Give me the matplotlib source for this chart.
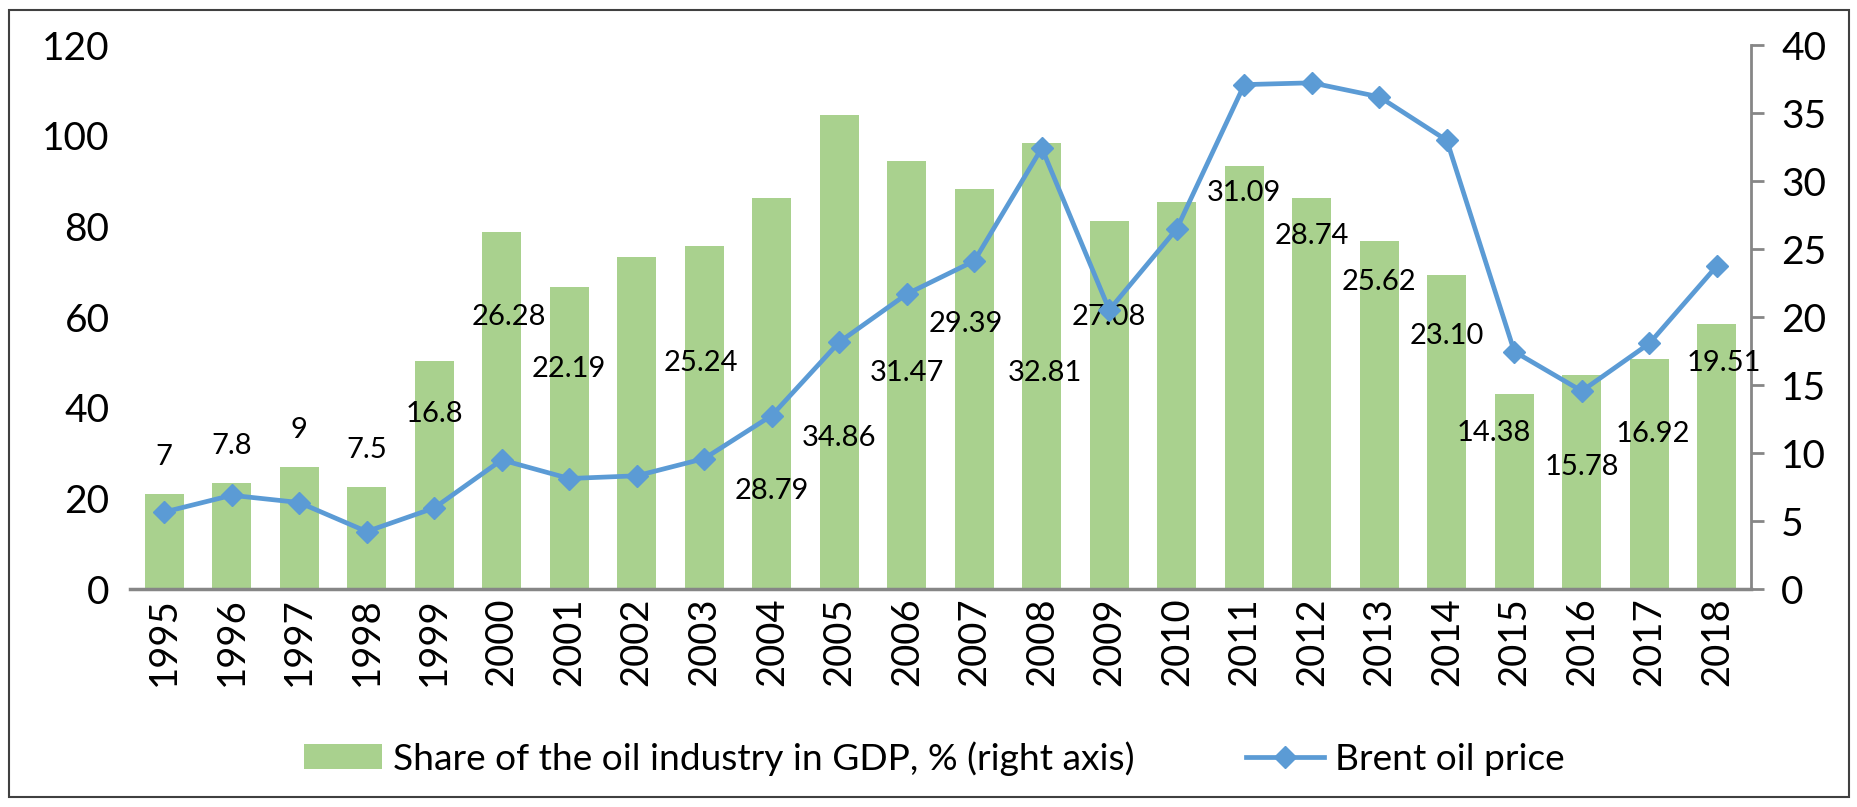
import matplotlib.pyplot as plt
from matplotlib.patches import Rectangle
import numpy as np

plt.rcParams['font.family'] = ['Lato', 'DejaVu Sans']

# Data
years = ['1995', '1996', '1997', '1998', '1999', '2000', '2001', '2002',
         '2003', '2004', '2005', '2006', '2007', '2008', '2009', '2010',
         '2011', '2012', '2013', '2014', '2015', '2016', '2017', '2018']
oil_share = [7, 7.8, 9, 7.5, 16.8, 26.28, 22.19, 24.46, 25.24, 28.79, 34.86,
             31.47, 29.39, 32.81, 27.08, 28.44, 31.09, 28.74, 25.62, 23.10,
             14.38, 15.78, 16.92, 19.51]
share_labels = ['7', '7.8', '9', '7.5', '16.8', '26.28', '22.19', '',
                '25.24', '28.79', '34.86', '31.47', '29.39', '32.81', '27.08',
                '', '31.09', '28.74', '25.62', '23.10', '14.38', '15.78',
                '16.92', '19.51']
brent = [17.0, 20.7, 19.1, 12.7, 17.9, 28.5, 24.4, 25.0, 28.8, 38.3, 54.5,
         65.1, 72.4, 97.3, 61.6, 79.5, 111.3, 111.7, 108.6, 99.0, 52.4,
         43.7, 54.2, 71.3]

# label placement (right-axis units, offset from bar centre) - labels were hand-placed
label_y = [9.7, 10.5, 11.7, 10.2, 12.9, 20.0, 16.2, 0, 16.6, 7.2, 11.1, 15.9,
           19.5, 15.9, 20.0, 0, 29.1, 26.0, 22.6, 18.6, 11.5, 9.0, 11.4, 16.6]
label_dx = [0, 0, 0, 0, 0, 0.1, 0, 0, -0.05, 0, 0, 0, -0.12, 0.05, 0, 0,
            0, 0, 0, 0, -0.3, 0, 0.05, 0.1]

green = '#A9D18E'
blue = '#5B9BD5'
axis_grey = '#868686'

fig = plt.figure(figsize=(18.58, 8.07), dpi=100)
ax = fig.add_axes([0.0702, 0.270, 0.872, 0.674])
ax2 = ax.twinx()

x = np.arange(len(years))

# bars on the right axis
ax2.bar(x, oil_share, width=0.58, color=green, zorder=2,
        label='Share of the oil industry in GDP, % (right axis)')
for i, lab in enumerate(share_labels):
    if lab:
        ax2.text(x[i] + label_dx[i], label_y[i], lab, ha='center', va='center',
                 fontsize=21, color='black', zorder=3)

# line on the left axis, drawn above the bars
ax.plot(x, brent, color=blue, lw=3.4, marker='D', ms=11, zorder=4,
        label='Brent oil price')
ax.set_zorder(ax2.get_zorder() + 1)
ax.patch.set_visible(False)

ax.set_xlim(-0.5, 23.5)
ax.set_ylim(0, 120)
ax2.set_ylim(0, 40)
ax.set_yticks(np.arange(0, 121, 20))
ax2.set_yticks(np.arange(0, 41, 5))
ax.set_xticks(x)
ax.set_xticklabels(years, rotation=90, fontsize=27.5)

ax.tick_params(axis='y', length=0, labelsize=28, pad=15)
ax.tick_params(axis='x', length=0, pad=6)
ax2.tick_params(axis='y', length=9, width=2, color=axis_grey,
                labelsize=28, pad=13)

for a in (ax, ax2):
    a.spines['top'].set_visible(False)
    a.spines['left'].set_visible(False)
    a.spines['right'].set_visible(False)
    a.spines['bottom'].set_visible(False)
ax2.spines['right'].set_visible(True)
ax2.spines['right'].set_color(axis_grey)
ax2.spines['right'].set_linewidth(2)
ax.spines['bottom'].set_visible(True)
ax.spines['bottom'].set_color(axis_grey)
ax.spines['bottom'].set_linewidth(2.5)

# legend
h1, l1 = ax2.get_legend_handles_labels()
h2, l2 = ax.get_legend_handles_labels()
fig.legend(h1 + h2, l1 + l2, loc='center', bbox_to_anchor=(0.503, 0.06),
           ncol=2, frameon=False, fontsize=26.7, handlelength=2.1,
           handleheight=0.65, columnspacing=3.0, handletextpad=0.3)

# outer border
fig.patches.append(Rectangle((0.005, 0.012), 0.99, 0.976, transform=fig.transFigure,
                             fill=False, edgecolor='#404040', lw=1.5))

plt.savefig('out.png', dpi=100)
